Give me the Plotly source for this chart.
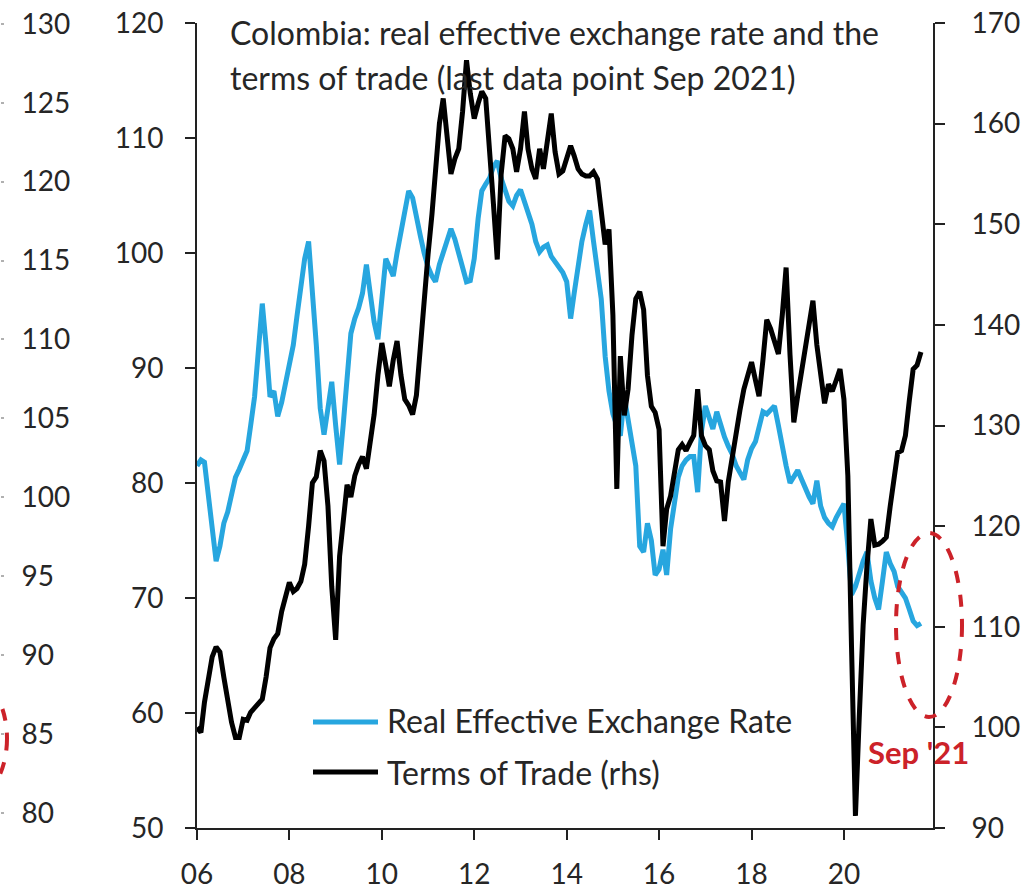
import pandas as pd
import plotly.graph_objects as go

# Monthly observations, Jan 2006 - Sep 2021
months = pd.date_range("2006-01-01", periods=189, freq="MS")

reer = [
    81.5, 82.0, 81.8, 79.0, 76.0, 73.2, 74.5, 76.5, 77.5, 79.0, 80.5, 81.2,      # 2006
    82.0, 82.8, 85.0, 87.5, 91.5, 95.6, 92.0, 87.5, 88.0, 85.8, 87.0, 88.5,      # 2007
    90.5, 92.0, 94.5, 97.0, 99.5, 101.0, 97.0, 92.0, 86.5, 84.2, 86.5, 88.8,     # 2008
    85.0, 81.6, 85.0, 89.0, 93.0, 94.3, 95.2, 96.5, 99.0, 96.5, 94.0, 92.5,      # 2009
    96.0, 99.5, 98.8, 98.0, 100.0, 102.0, 104.0, 105.4, 104.8, 103.0, 101.5, 100.0,  # 2010
    98.8, 98.0, 97.5, 99.0, 100.0, 101.0, 102.1, 101.2, 100.0, 98.5, 97.5, 97.6,     # 2011
    99.5, 103.0, 105.4, 106.0, 106.5, 107.5, 108.0, 106.5, 105.5, 104.5, 104.1, 105.0,  # 2012
    105.5, 104.5, 103.5, 102.5, 101.0, 100.1, 100.5, 100.7, 99.7, 99.2, 98.8, 98.3,    # 2013
    97.5, 94.3, 96.5, 98.9, 101.0, 102.5, 103.7, 101.0, 98.5, 96.0, 91.0, 88.0,      # 2014
    86.0, 85.0, 84.1, 87.5, 85.5, 83.0, 81.5, 74.5, 74.0, 76.5, 75.0, 72.0,      # 2015
    72.5, 74.2, 72.0, 76.0, 78.5, 80.5, 81.5, 82.0, 82.3, 82.3, 79.2, 84.5,      # 2016
    86.7, 85.5, 84.7, 86.2, 85.0, 84.0, 83.2, 82.5, 81.5, 81.0, 80.3, 82.0,      # 2017
    83.0, 83.6, 85.0, 86.2, 86.0, 86.3, 86.7, 85.0, 83.0, 81.5, 80.0, 80.5,      # 2018
    81.1, 80.3, 79.5, 78.8, 78.2, 80.2, 78.0, 77.0, 76.5, 76.2, 77.0, 77.6,      # 2019
    78.2, 74.5, 70.3, 71.0, 72.3, 73.2, 74.0, 71.5, 70.0, 69.0, 71.5, 74.0,      # 2020
    73.0, 72.3, 71.0, 70.5, 70.0, 69.0, 68.0, 67.6, 67.8,                        # 2021
]

terms_of_trade = [
    100.0, 99.5, 102.5, 105.0, 107.0, 108.0, 107.5, 105.0, 102.5, 100.5, 99.0, 99.0,   # 2006
    100.8, 100.7, 101.5, 102.0, 102.3, 102.8, 105.0, 107.9, 108.8, 109.3, 111.5, 113.0,  # 2007
    114.4, 113.5, 113.8, 114.5, 116.2, 120.0, 124.3, 124.9, 127.5, 126.5, 122.0, 114.0,  # 2008
    108.7, 117.0, 121.0, 124.1, 122.9, 125.0, 126.1, 126.9, 125.7, 128.0, 131.1, 135.0,  # 2009
    138.2, 136.0, 133.9, 136.5, 138.4, 135.0, 132.6, 132.0, 131.1, 133.0, 138.0, 143.0,  # 2010
    147.0, 151.0, 156.0, 160.0, 162.5, 159.0, 155.0, 156.5, 157.5, 161.2, 166.3, 163.0,  # 2011
    160.5, 162.0, 163.2, 162.5, 158.0, 152.0, 146.5, 155.0, 158.8, 158.5, 157.5, 155.2,  # 2012
    157.5, 161.2, 157.5, 155.5, 154.5, 157.5, 155.5, 158.5, 161.0, 157.2, 155.0, 155.3,  # 2013
    156.5, 157.8, 156.8, 155.5, 155.0, 154.8, 154.8, 155.2, 154.5, 151.0, 148.0, 149.5,  # 2014
    141.0, 123.7, 136.9, 131.0, 133.6, 139.0, 142.6, 143.3, 141.5, 135.0, 131.9, 131.3,  # 2015
    129.6, 118.0, 121.7, 123.0, 125.5, 127.6, 128.1, 127.5, 128.3, 129.0, 133.6, 129.0,  # 2016
    128.0, 127.6, 125.5, 124.5, 124.4, 120.5, 124.4, 127.0, 129.0, 131.5, 133.6, 135.0,  # 2017
    136.3, 134.5, 132.9, 136.5, 140.5, 139.6, 138.5, 137.1, 141.0, 145.7, 137.0, 130.3,  # 2018
    133.0, 135.6, 138.0, 140.0, 142.4, 138.0, 134.9, 132.2, 134.1, 133.4, 134.5, 135.6,  # 2019
    132.6, 125.0, 108.0, 91.2, 101.0, 110.2, 116.0, 120.7, 118.1, 118.2, 118.5, 118.9,   # 2020
    122.0, 125.2, 127.3, 127.5, 129.0, 132.5, 135.6, 136.0, 137.3,                       # 2021
]

x_tick_dates = ["2006-01-01", "2008-01-01", "2010-01-01", "2012-01-01",
                "2014-01-01", "2016-01-01", "2018-01-01", "2020-01-01"]
x_tick_text = ["06", "08", "10", "12", "14", "16", "18", "20"]

title_lines = ["Colombia: real effective exchange rate and the",
               "terms of trade (last data point Sep 2021)"]
series_names = ["Real Effective Exchange Rate", "Terms of Trade (rhs)"]

BLUE = "#27A6DF"
BLACK = "#000000"
RED = "#CC2229"
TEXT = "#262626"
FONT = "Lato"
FS = 28       # tick labels
FS_TEXT = 32  # title and legend text

W, H = 1033, 890
L, R, T, B = 0, 100, 23, 62
PW = W - L - R
PH = H - T - B


def px(x):
    return x / PW


def py(y):
    return (H - B - y) / PH


fig = go.Figure()
fig.add_trace(go.Scatter(x=months, y=reer, name=series_names[0], yaxis="y",
                         mode="lines", line=dict(color=BLUE, width=5),
                         showlegend=False))
fig.add_trace(go.Scatter(x=months, y=terms_of_trade, name=series_names[1], yaxis="y2",
                         mode="lines", line=dict(color=BLACK, width=5),
                         showlegend=False))
# placeholder trace so the extra scale on the far left is rendered
fig.add_trace(go.Scatter(x=[months[0]], y=[None], yaxis="y3", mode="lines",
                         showlegend=False, hoverinfo="skip"))

axis_font = dict(family=FONT, size=FS, color=TEXT)

fig.update_layout(
    width=W, height=H,
    margin=dict(l=L, r=R, t=T, b=B, autoexpand=False),
    paper_bgcolor="white", plot_bgcolor="white",
    font=dict(family=FONT, size=FS, color=TEXT),
    showlegend=False,
    xaxis=dict(
        type="date", domain=[197 / PW, 1], automargin=False,
        range=["2006-01-01", "2021-12-05"],
        tickvals=x_tick_dates, ticktext=x_tick_text,
        ticks="outside", ticklen=10, tickwidth=2, tickcolor="#222",
        showline=True, linewidth=2, linecolor="#222",
        showgrid=False, zeroline=False, tickfont=axis_font,
        ticklabelstandoff=10,
    ),
    yaxis=dict(
        range=[50, 120], dtick=10, tick0=50, anchor="x", automargin=False,
        ticks="outside", ticklen=10, tickwidth=2, tickcolor="#222",
        showline=True, linewidth=2, linecolor="#222",
        showgrid=False, zeroline=False, tickfont=axis_font,
        ticklabelstandoff=16,
    ),
    yaxis2=dict(
        range=[90, 170], dtick=10, tick0=90, anchor="x", automargin=False,
        overlaying="y", side="right",
        ticks="outside", ticklen=10, tickwidth=2, tickcolor="#222",
        showline=True, linewidth=2, linecolor="#222",
        showgrid=False, zeroline=False, tickfont=axis_font,
        ticklabelstandoff=21,
    ),
    yaxis3=dict(
        range=[79.05, 130.05], dtick=5, tick0=80, automargin=False,
        overlaying="y", anchor="free", position=0, side="right",
        ticks="outside", ticklen=3, tickwidth=2, tickcolor="#B0B0B0",
        showline=False, showgrid=False, zeroline=False, tickfont=axis_font,
        ticklabelstandoff=12,
    ),
)

annotations = [
    dict(x=px(228), y=py(32), text=title_lines[0]),
    dict(x=px(228), y=py(77), text=title_lines[1]),
    dict(x=px(385), y=py(720), text=series_names[0]),
    dict(x=px(385), y=py(772), text=series_names[1]),
]
for a in annotations:
    a.update(xref="paper", yref="paper", xanchor="left", yanchor="middle",
             showarrow=False, font=dict(family=FONT, size=FS_TEXT, color=TEXT))
annotations.append(dict(
    x=px(866), y=py(752), xref="paper", yref="paper", xanchor="left",
    yanchor="middle", showarrow=False, text="<b>Sep '21</b>",
    font=dict(family=FONT, size=31, color=RED)))
fig.update_layout(annotations=annotations)

shapes = [
    dict(type="line", xref="paper", yref="paper",
         x0=px(313), x1=px(378), y0=py(722), y1=py(722),
         line=dict(color=BLUE, width=5)),
    dict(type="line", xref="paper", yref="paper",
         x0=px(313), x1=px(378), y0=py(772), y1=py(772),
         line=dict(color=BLACK, width=5)),
    dict(type="circle", xref="paper", yref="paper",
         x0=px(896), x1=px(962), y0=py(717), y1=py(533),
         line=dict(color=RED, width=4, dash="dash")),
    dict(type="circle", xref="paper", yref="paper",
         x0=px(-60), x1=px(7), y0=py(797), y1=py(680),
         line=dict(color=RED, width=4, dash="dash")),
]
fig.update_layout(shapes=shapes)

fig.write_html("out.html")
